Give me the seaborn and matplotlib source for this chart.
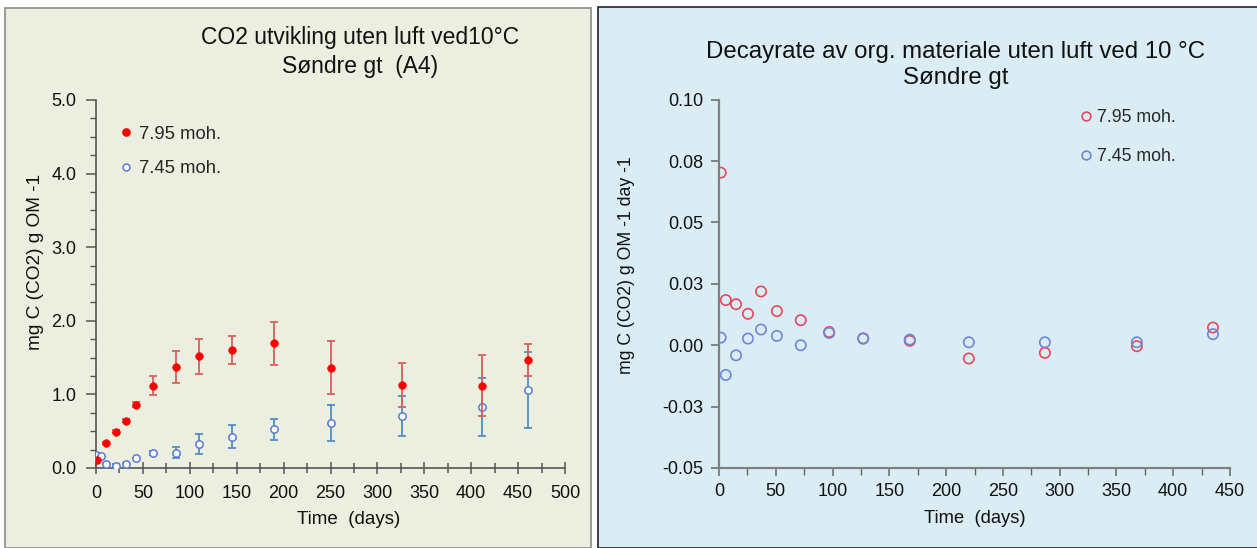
import matplotlib
matplotlib.use("Agg")
import matplotlib.pyplot as plt
from matplotlib.patches import Rectangle
from matplotlib.lines import Line2D
from matplotlib.ticker import MultipleLocator
import seaborn as sns
import pandas as pd

# ---------------- data ----------------
series_names = ["7.95 moh.", "7.45 moh."]

days_red_cum = [1, 11, 21, 32, 43, 61, 85, 110, 145, 190, 251, 326, 411, 461]
red_cum = [0.11, 0.34, 0.49, 0.64, 0.86, 1.12, 1.37, 1.515, 1.605, 1.695, 1.365, 1.13, 1.115, 1.47]
red_err = [0.01, 0.01, 0.02, 0.02, 0.03, 0.13, 0.22, 0.235, 0.195, 0.295, 0.355, 0.30, 0.415, 0.22]

days_blue_cum = [0, 5, 11, 21, 32, 43, 61, 85, 110, 145, 190, 251, 326, 411, 461]
blue_cum = [0.18, 0.16, 0.06, 0.03, 0.06, 0.13, 0.20, 0.21, 0.325, 0.425, 0.525, 0.61, 0.71, 0.825, 1.065]
blue_err = [0.02, 0.01, 0.01, 0.02, 0.01, 0.01, 0.03, 0.08, 0.135, 0.155, 0.145, 0.24, 0.27, 0.395, 0.515]

days_rate = [1.5, 6, 15, 25.5, 37, 51, 72, 97, 127, 168, 220, 287, 368, 435]
red_rate = [0.0703, 0.0184, 0.0167, 0.0128, 0.0219, 0.0139, 0.0102, 0.0054, 0.0028, 0.0018,
            -0.0054, -0.0031, -0.0004, 0.0072]
blue_rate = [0.0031, -0.0121, -0.0041, 0.0027, 0.0064, 0.0038, 0.0000, 0.0050, 0.0027, 0.0023,
             0.0012, 0.0012, 0.0012, 0.0045]

left_yticks = [0.0, 1.0, 2.0, 3.0, 4.0, 5.0]
left_yticklabels = ["0.0", "1.0", "2.0", "3.0", "4.0", "5.0"]
left_xticks = list(range(0, 501, 50))
right_yticks = [-0.05, -0.025, 0.0, 0.025, 0.05, 0.075, 0.10]
right_yticklabels = ["-0.05", "-0.03", "0.00", "0.03", "0.05", "0.08", "0.10"]
right_xticks = list(range(0, 451, 50))

left_title = "CO2 utvikling uten luft ved10°C\nSøndre gt  (A4)"
right_title = "Decayrate av org. materiale uten luft ved 10 °C\nSøndre gt"
left_ylabel = "mg C (CO2) g OM -1"
right_ylabel = "mg C (CO2) g OM -1 day -1"
xlabel = "Time  (days)"

# ---------------- style ----------------
sns.set_theme(style="ticks")
plt.rcParams["font.family"] = ["Liberation Sans", "DejaVu Sans"]
plt.rcParams["axes.linewidth"] = 1.2

W, H = 1257, 548
fig = plt.figure(figsize=(W / 100, H / 100), dpi=100)
fig.patch.set_facecolor("white")

# panel backgrounds
fig.patches.append(Rectangle((5 / W, 0), 586 / W, 540 / H, transform=fig.transFigure,
                             facecolor="#ECEFDF", edgecolor="#8A8A8A", linewidth=1.2, zorder=-5))
fig.patches.append(Rectangle((598 / W, 0), 662 / W, 541 / H, transform=fig.transFigure,
                             facecolor="#DAEDF4", edgecolor="#222222", linewidth=1.2, zorder=-5))

spine_col = "#808080"
txt = "#111111"

# ---------------- left panel ----------------
axL = fig.add_axes([96 / W, 80 / H, 469 / W, 368 / H])
axL.set_facecolor("none")
axL.set_zorder(2)

dfb = pd.DataFrame({"day": days_blue_cum, "val": blue_cum, "err": blue_err})
dfr = pd.DataFrame({"day": days_red_cum, "val": red_cum, "err": red_err})

axL.errorbar(dfb["day"], dfb["val"], yerr=dfb["err"], fmt="none", ecolor="#4F8FC6",
             elinewidth=1.3, capsize=3, capthick=1.3, zorder=2)
sns.scatterplot(data=dfb, x="day", y="val", ax=axL, marker="o", s=28,
                facecolor="white", edgecolor="#5A78DC", linewidth=1.1, zorder=3)
axL.errorbar(dfr["day"], dfr["val"], yerr=dfr["err"], fmt="none", ecolor="#D9605E",
             elinewidth=1.3, capsize=3, capthick=1.3, zorder=4)
sns.scatterplot(data=dfr, x="day", y="val", ax=axL, marker="o", s=30,
                color="#FF0000", edgecolor="#FF0000", linewidth=0.5, zorder=5)

axL.set_xlim(0, 500)
axL.set_ylim(0, 5)
axL.set_xticks(left_xticks)
axL.set_yticks(left_yticks)
axL.set_yticklabels(left_yticklabels)
axL.xaxis.set_minor_locator(MultipleLocator(25))
axL.yaxis.set_minor_locator(MultipleLocator(0.25))
axL.tick_params(axis="x", which="both", direction="inout", length=9, width=1.1, color="#555555",
                labelsize=13, labelcolor=txt, pad=8)
axL.tick_params(axis="x", which="minor", length=7)
axL.tick_params(axis="y", which="major", direction="out", length=7, width=1.1, color="#555555",
                labelsize=13, labelcolor=txt, pad=7)
axL.tick_params(axis="y", which="minor", direction="out", length=4, width=1.0, color="#555555")
for s in ["top", "right"]:
    axL.spines[s].set_visible(False)
for s in ["left", "bottom"]:
    axL.spines[s].set_color("#555555")
axL.set_xlabel(xlabel, fontsize=13.5, color=txt)
axL.xaxis.set_label_coords(0.539, -0.117)
axL.set_ylabel(left_ylabel, fontsize=13.7, color=txt)
axL.yaxis.set_label_coords(-0.11, 0.56)
fig.text(360 / W, 0.905, left_title, fontsize=16.5, color=txt, ha="center", va="center",
         multialignment="center", linespacing=1.3)

hL = [Line2D([], [], linestyle="none", marker="o", markersize=5.2, markerfacecolor="#FF0000",
             markeredgecolor="#FF0000"),
      Line2D([], [], linestyle="none", marker="o", markersize=5, markerfacecolor="white",
             markeredgecolor="#5A78DC", markeredgewidth=1.1)]
axL.legend(hL, series_names, loc="upper left", bbox_to_anchor=(0.045, 0.93), frameon=False,
           fontsize=13.3, handlelength=1.0, handletextpad=0.2, labelspacing=0.95, borderpad=0,
           borderaxespad=0)

# ---------------- right panel ----------------
axR = fig.add_axes([719 / W, 80 / H, 511 / W, 368.3 / H])
axR.set_facecolor("none")
axR.set_zorder(2)
dfrate = pd.DataFrame({
    "day": days_rate + days_rate,
    "rate": red_rate + blue_rate,
    "series": [series_names[0]] * len(days_rate) + [series_names[1]] * len(days_rate),
})
sns.scatterplot(data=dfrate, x="day", y="rate", hue="series", ax=axR, marker="o", s=55,
                palette={series_names[0]: "#E6475A", series_names[1]: "#6F86DA"},
                linewidth=1.2, legend=False, zorder=3)
# open circles: move hue colours to the edges
coll = axR.collections[-1]
cols = coll.get_facecolors()
coll.set_edgecolors(cols)
coll.set_facecolors("none")

axR.set_xlim(0, 450)
axR.set_ylim(-0.05, 0.10)
axR.set_xticks(right_xticks)
axR.set_yticks(right_yticks)
axR.set_yticklabels(right_yticklabels)
axR.xaxis.set_minor_locator(MultipleLocator(25))
axR.tick_params(axis="x", which="major", direction="out", length=6, width=1.1, color="#666666",
                labelsize=13, labelcolor=txt, pad=5)
axR.tick_params(axis="x", which="minor", direction="out", length=5, width=1.0, color="#666666")
axR.tick_params(axis="y", which="major", direction="out", length=6, width=1.1, color="#666666",
                labelsize=13, labelcolor=txt, pad=5)
for s in ["top", "right"]:
    axR.spines[s].set_visible(False)
for s in ["left", "bottom"]:
    axR.spines[s].set_color(spine_col)
    axR.spines[s].set_linewidth(1.6)
axR.set_xlabel(xlabel, fontsize=13.2, color=txt)
axR.xaxis.set_label_coords(0.50, -0.113)
axR.set_ylabel(right_ylabel, fontsize=12.7, color=txt)
axR.yaxis.set_label_coords(-0.164, 0.55)
fig.text(956 / W, 0.882, right_title, fontsize=17.3, color=txt, ha="center", va="center",
         multialignment="center", linespacing=1.22)

hR = [Line2D([], [], linestyle="none", marker="o", markersize=6.3, markerfacecolor="none",
             markeredgecolor="#E6475A", markeredgewidth=1.2),
      Line2D([], [], linestyle="none", marker="o", markersize=6.3, markerfacecolor="none",
             markeredgecolor="#6F86DA", markeredgewidth=1.2)]
axR.legend(hR, series_names, loc="upper left", bbox_to_anchor=(0.70, 0.975), frameon=False,
           fontsize=12.8, handlelength=1.0, handletextpad=0.15, labelspacing=1.25, borderpad=0,
           borderaxespad=0)

fig.savefig("out.png", dpi=100, facecolor=fig.get_facecolor())
